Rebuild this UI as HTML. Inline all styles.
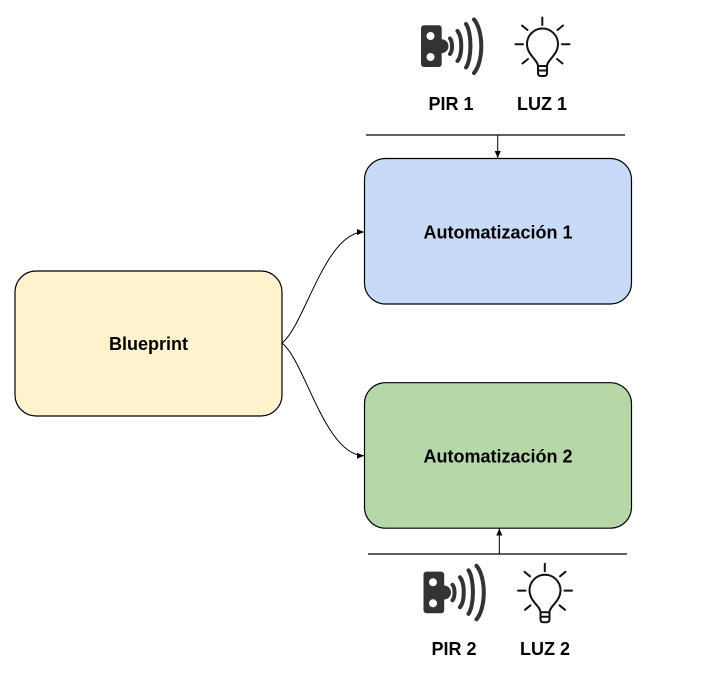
<!DOCTYPE html>
<html><head><meta charset="utf-8"><style>
html,body{margin:0;padding:0;background:#fff;width:726px;height:677px;overflow:hidden}
svg{display:block}
text{font-family:"Liberation Sans",Arial,sans-serif;font-weight:bold;font-size:18px;fill:#000}
</style></head><body>
<svg width="726" height="677" viewBox="0 0 726 677" xmlns="http://www.w3.org/2000/svg">
<defs>
<marker id="ah" markerWidth="8" markerHeight="8" refX="7" refY="4" orient="auto" markerUnits="userSpaceOnUse">
<path d="M0,1 L7,4 L0,7 Z" fill="#000"/>
</marker>
<g id="pir">
<rect x="421" y="25.3" width="20.7" height="41.7" rx="3" fill="#333"/>
<circle cx="441.5" cy="46.2" r="7" fill="#333"/>
<circle cx="430.5" cy="36" r="4" fill="#fff"/>
<circle cx="430.5" cy="57" r="4" fill="#fff"/>
<g fill="none" stroke="#333" stroke-width="4" stroke-linecap="round">
<path d="M450,38.5 A4 8.9 0 0 1 450,54"/>
<path d="M457.5,31 A6.7 16.7 0 0 1 457.5,61"/>
<path d="M466,24 A7.6 23.9 0 0 1 466,67.5"/>
<path d="M474,19.5 A13.3 30 0 0 1 474,73"/>
</g>
</g>
<g id="bulb" fill="none" stroke="#111" stroke-width="2" stroke-linecap="round">
<path d="M538,66 C538,60 527,55 527,44 A15.5,15.5 0 1 1 558,44 C558,55 547,60 547,66 Z"/>
<path d="M538,66 L538,73 Q538,76 541,76 L544,76 Q547,76 547,73 L547,66"/>
<line x1="538" y1="70.5" x2="547" y2="70.5"/>
<line x1="542.3" y1="17.5" x2="542.3" y2="25"/>
<line x1="515.5" y1="44.3" x2="523" y2="44.3"/>
<line x1="562" y1="44.3" x2="569.5" y2="44.3"/>
<line x1="522" y1="25.5" x2="527.5" y2="30"/>
<line x1="557.5" y1="30" x2="563" y2="25.5"/>
<line x1="522.5" y1="63.5" x2="528" y2="59"/>
<line x1="557" y1="59" x2="562.5" y2="63.5"/>
</g>
</defs>

<!-- top icons -->
<use href="#pir"/>
<use href="#bulb"/>
<text x="451" y="110" text-anchor="middle">PIR 1</text>
<text x="542" y="110" text-anchor="middle">LUZ 1</text>

<!-- top line + arrow -->
<line x1="366" y1="135" x2="625" y2="135" stroke="#000" stroke-width="1.3"/>
<line x1="497.7" y1="135" x2="497.7" y2="158" stroke="#000" stroke-width="1" marker-end="url(#ah)"/>

<!-- boxes -->
<rect x="364.5" y="158.5" width="267" height="145.5" rx="21" fill="#c9daf8" stroke="#000" stroke-width="1.2"/>
<text x="498" y="238.3" text-anchor="middle">Automatización 1</text>

<rect x="15" y="271" width="267" height="145" rx="21" fill="#fff2cc" stroke="#000" stroke-width="1.2"/>
<text x="148.5" y="350" text-anchor="middle">Blueprint</text>

<rect x="364.5" y="382.7" width="267" height="145.5" rx="21" fill="#b6d7a8" stroke="#000" stroke-width="1.2"/>
<text x="498" y="462.5" text-anchor="middle">Automatización 2</text>

<!-- curves -->
<path d="M282,343 C305,325 325,232 364,232" fill="none" stroke="#000" stroke-width="1" marker-end="url(#ah)"/>
<path d="M282,343 C305,361 325,455.7 364,455.7" fill="none" stroke="#000" stroke-width="1" marker-end="url(#ah)"/>

<!-- bottom line + arrow -->
<line x1="368" y1="554" x2="627" y2="554" stroke="#000" stroke-width="1.3"/>
<line x1="499.3" y1="554" x2="499.3" y2="528.5" stroke="#000" stroke-width="1" marker-end="url(#ah)"/>

<!-- bottom icons -->
<g transform="translate(2.5,546.3)">
<use href="#pir"/>
<use href="#bulb"/>
</g>
<text x="454" y="655" text-anchor="middle">PIR 2</text>
<text x="545" y="655" text-anchor="middle">LUZ 2</text>
</svg>
</body></html>
